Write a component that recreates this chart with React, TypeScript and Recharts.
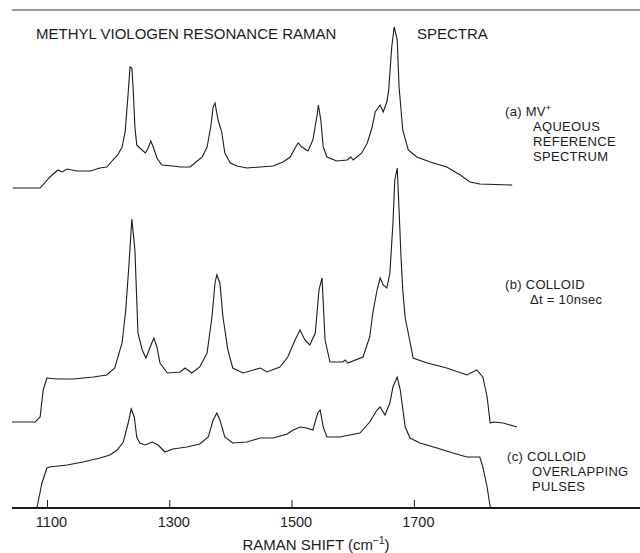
import React from 'react';
import { LineChart, Line, XAxis, YAxis, ReferenceLine } from 'recharts';

// Raman shift (cm-1) and relative intensity (arbitrary units, stacked offsets included)
const aShift = [1043,1088,1104,1117,1124,1132,1148,1170,1186,1197,1207,1215,1222,1227,1232,1235,1238,1240,1243,1246,1251,1260,1264,1269,1273,1279,1287,1305,1317,1333,1341,1353,1361,1367,1371,1374,1379,1385,1390,1399,1410,1426,1448,1469,1485,1497,1505,1510,1516,1526,1534,1541,1543,1547,1551,1557,1573,1590,1596,1600,1614,1623,1631,1636,1644,1649,1655,1658,1663,1667,1672,1675,1681,1690,1704,1726,1753,1775,1791,1807,1860];
const aInt = [320,320,331,338,336,339,337,337,340,341,348,353,361,376,415,441,440,421,381,363,360,355,359,367,361,350,343,342,341,341,345,351,361,381,401,405,388,376,355,345,342,340,341,342,346,351,360,365,361,357,368,393,403,388,361,351,347,348,351,348,355,365,381,396,403,396,406,418,461,481,468,421,378,358,351,346,341,333,326,324,323];

const bShift = [1042,1080,1088,1093,1099,1116,1142,1175,1197,1210,1222,1228,1233,1238,1243,1248,1255,1261,1268,1274,1279,1284,1296,1317,1325,1336,1349,1361,1369,1374,1377,1382,1387,1395,1403,1420,1448,1459,1480,1493,1505,1513,1521,1529,1538,1544,1549,1554,1562,1583,1587,1591,1616,1627,1632,1639,1644,1649,1655,1660,1665,1668,1672,1675,1678,1681,1685,1690,1698,1721,1753,1786,1802,1812,1819,1824,1829,1845,1868];
const bInt = [86,86,91,118,130,129,129,131,133,140,165,198,241,289,258,175,158,150,161,170,161,145,135,136,140,135,141,155,191,225,233,225,191,158,140,135,140,136,141,151,168,178,168,163,175,218,230,168,146,146,148,145,151,171,195,218,230,223,220,235,285,328,340,298,253,218,190,175,150,145,140,133,138,131,111,85,86,85,81];

const cShift = [1042,1080,1083,1091,1099,1104,1132,1158,1186,1202,1214,1224,1232,1237,1242,1246,1251,1260,1271,1281,1292,1305,1328,1349,1363,1371,1377,1382,1390,1403,1426,1448,1469,1492,1502,1513,1524,1534,1542,1546,1551,1557,1578,1611,1627,1639,1644,1652,1660,1665,1672,1677,1685,1693,1709,1737,1763,1786,1807,1812,1819,1824,1829,1840];
const cInt = [0,0,1,25,40,41,43,46,50,53,58,66,85,99,91,71,65,63,66,63,56,59,61,64,71,88,95,88,71,65,66,70,70,74,78,81,80,78,95,98,81,71,71,75,86,98,101,93,105,121,131,118,81,70,65,60,55,51,51,41,21,1,0,0];

const xTicks = [1100, 1300, 1500, 1700];
const xDomain = [1042, 2069];
const yDomain = [0, 498];

const toPoints = (xs: number[], ys: number[]) => xs.map((x, i) => ({ x, y: ys[i] }));
const dataA = toPoints(aShift, aInt);
const dataB = toPoints(bShift, bInt);
const dataC = toPoints(cShift, cInt);

const FONT = '"Liberation Sans", Arial, sans-serif';
const INK = '#1c1c1c';

const XTick = (props: any) => {
  const { x, y, payload } = props;
  return (
    <g>
      <line x1={x} x2={x} y1={y - 8} y2={y} stroke={INK} strokeWidth={1} />
      <text x={x + 4} y={y + 19} textAnchor="middle" fontFamily={FONT} fontSize={14.5} fill={INK}>
        {payload.value}
      </text>
    </g>
  );
};

const Label = ({ x, y, children }: { x: number; y: number; children: React.ReactNode }) => (
  <text x={x} y={y} fontFamily={FONT} fontSize={13} letterSpacing={0.3} fill={INK}>{children}</text>
);

export default function App() {
  return (
    <div style={{ position: 'absolute', left: 0, top: 0, width: 640, height: 553, background: '#fff', overflow: 'hidden' }}>
      <LineChart width={640} height={553} margin={{ top: 10, right: 0, bottom: 0, left: 12 }}>
        <XAxis
          type="number"
          dataKey="x"
          domain={xDomain}
          ticks={xTicks}
          height={45}
          tickSize={0}
          tickMargin={0}
          tickLine={false}
          tick={<XTick />}
          axisLine={{ stroke: INK, strokeWidth: 1.8 }}
          allowDataOverflow
        />
        <YAxis
          type="number"
          dataKey="y"
          domain={yDomain}
          width={0}
          tick={false}
          tickLine={false}
          axisLine={{ stroke: '#666', strokeWidth: 1 }}
          allowDataOverflow
        />
        <ReferenceLine y={498} stroke="#333" strokeWidth={1.2} />
        <Line data={dataA} dataKey="y" type="linear" stroke={INK} strokeWidth={1.1} dot={false} isAnimationActive={false} />
        <Line data={dataB} dataKey="y" type="linear" stroke={INK} strokeWidth={1.1} dot={false} isAnimationActive={false} />
        <Line data={dataC} dataKey="y" type="linear" stroke={INK} strokeWidth={1.1} dot={false} isAnimationActive={false} />
      </LineChart>
      <svg width={640} height={553} style={{ position: 'absolute', left: 0, top: 0, pointerEvents: 'none' }}>
        <text x={36} y={39} fontFamily={FONT} fontSize={15} fill={INK}>METHYL VIOLOGEN RESONANCE RAMAN</text>
        <text x={417} y={39} fontFamily={FONT} fontSize={15} fill={INK}>SPECTRA</text>
        <Label x={505} y={116}>(a) MV<tspan dy={-5} fontSize={9}>+</tspan></Label>
        <Label x={533} y={131}>AQUEOUS</Label>
        <Label x={533} y={146}>REFERENCE</Label>
        <Label x={533} y={160.5}>SPECTRUM</Label>
        <Label x={505} y={289}>(b) COLLOID</Label>
        <Label x={530} y={304}>Δt = 10nsec</Label>
        <Label x={507} y={461}>(c) COLLOID</Label>
        <Label x={532} y={476}>OVERLAPPING</Label>
        <Label x={532} y={490.5}>PULSES</Label>
        <text x={316} y={550} textAnchor="middle" fontFamily={FONT} fontSize={15} fill={INK}>
          RAMAN SHIFT (cm<tspan dy={-6} fontSize={10}>−1</tspan><tspan dy={6}>)</tspan>
        </text>
      </svg>
    </div>
  );
}
